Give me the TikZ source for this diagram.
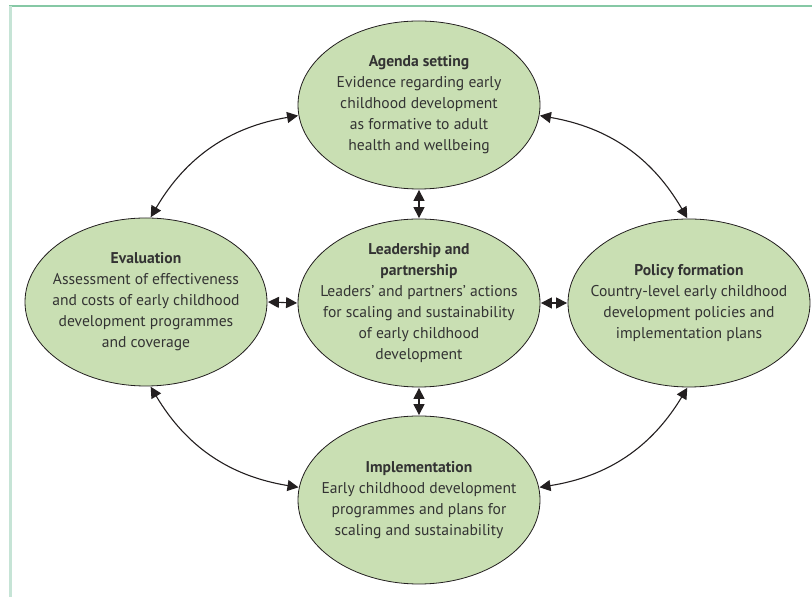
\documentclass[tikz,border=0pt]{standalone}
\usepackage{fontspec}
\setmainfont{PT Sans}
\usetikzlibrary{shapes.geometric,arrows.meta}
\definecolor{ellfill}{HTML}{C9DFB3}
\definecolor{ink}{HTML}{231F20}
\definecolor{txt}{HTML}{333333}
\definecolor{topline}{HTML}{86C8A5}
\definecolor{leftline}{HTML}{C6E4D6}
\tikzset{
  bubble/.style={ellipse, draw=ink, line width=0.8pt, fill=ellfill, minimum width=242pt, minimum height=168pt, inner sep=0pt},
  btext/.style={align=center, text=txt, font=\fontsize{15.6pt}{21pt}\selectfont, inner sep=0pt},
  link/.style={ink, line width=1.1pt, {Triangle[length=11pt,width=11pt]}-{Triangle[length=11pt,width=11pt]}, shorten <=0.5pt, shorten >=0.5pt}
}
\begin{document}
\begin{tikzpicture}[x=1pt,y=1pt]
\useasboundingbox (0,0) rectangle (812,597);
\draw[topline, line width=2pt] (9,591) -- (812,591);
\draw[leftline, line width=2.5pt] (10.5,591) -- (10.5,0);

\node[bubble] (agenda) at (419,492) {};
\node[bubble] (eval) at (146,295) {};
\node[bubble] (lead) at (419,294) {};
\node[bubble] (policy) at (689,294) {};
\node[bubble] (impl) at (419,97) {};

\node[btext] (agendaT) at (agenda.center) {\textbf{Agenda setting}\\Evidence regarding early\\childhood development\\as formative to adult\\health and wellbeing};
\node[btext] (evalT) at (eval.center) {\textbf{Evaluation}\\Assessment of effectiveness\\and costs of early childhood\\development programmes\\and coverage};
\node[btext] (leadT) at (lead.center) {\textbf{Leadership and}\\\textbf{partnership}\\Leaders’ and partners’ actions\\for scaling and sustainability\\of early childhood\\development};
\node[btext] (policyT) at (policy.center) {\textbf{Policy formation}\\Country-level early childhood\\development policies and\\implementation plans};
\node[btext] (implT) at (impl.center) {\textbf{Implementation}\\Early childhood development\\programmes and plans for\\scaling and sustainability};

\draw[link] (agenda.south) -- (lead.north);
\draw[link] (lead.south) -- (impl.north);
\draw[link] (eval.east) -- (lead.west);
\draw[link] (lead.east) -- (policy.west);

\draw[link] (agenda.355) to[bend left=25] (policy.91);
\draw[link] (policy.269) to[bend left=25] (impl.6);
\draw[link] (impl.174) to[bend left=25] (eval.273);
\draw[link] (eval.87) to[bend left=25] (agenda.185);
\end{tikzpicture}
\end{document}
